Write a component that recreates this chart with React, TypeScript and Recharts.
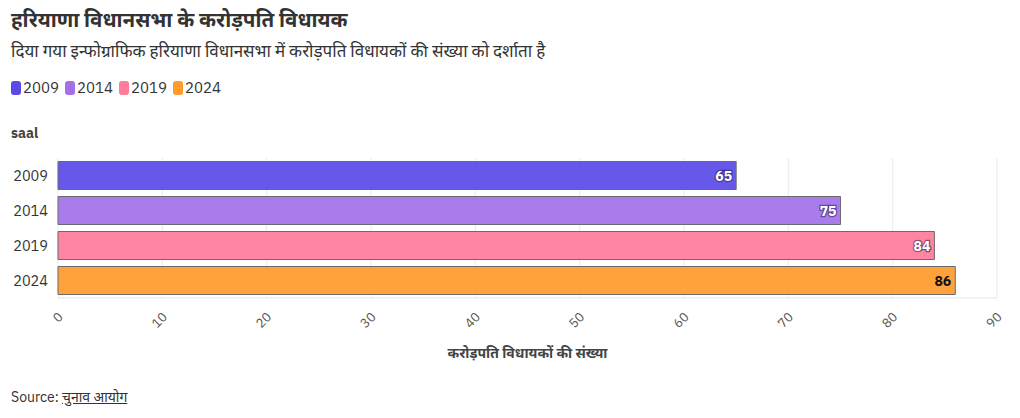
import React from "react";
import { BarChart, Bar, XAxis, YAxis, CartesianGrid, Cell, LabelList } from "recharts";

const years = ["2009", "2014", "2019", "2024"];
const crorepatiCounts = [65, 75, 84, 86];
const barColors = ["#5b4ae8", "#a370e8", "#ff7b9a", "#ff9a2b"];
const labelColors = ["#ffffff", "#ffffff", "#ffffff", "#111111"];
const xTicks = [0, 10, 20, 30, 40, 50, 60, 70, 80, 90];

const title = "हरियाणा विधानसभा के करोड़पति विधायक";
const subtitle = "दिया गया इन्फोग्राफिक हरियाणा विधानसभा में करोड़पति विधायकों की संख्या को दर्शाता है";
const yAxisTitle = "saal";
const xAxisTitle = "करोड़पति विधायकों की संख्या";
const sourceLabel = "Source: ";
const sourceName = "चुनाव आयोग";

const data = years.map((y, i) => ({ year: y, value: crorepatiCounts[i] }));

const FONT = "'IBM Plex Sans', 'Noto Sans', 'Noto Sans Devanagari', sans-serif";

const XTick = (props: any) => {
  const { x, y, payload } = props;
  return (
    <g transform={`translate(${x},${y + 6})`}>
      <text
        x={0}
        y={0}
        dy={8}
        textAnchor="end"
        transform="rotate(-45)"
        fill="#555"
        fontSize={13}
        fontFamily={FONT}
      >
        {payload.value}
      </text>
    </g>
  );
};

const YTick = (props: any) => {
  const { x, y, payload } = props;
  return (
    <text x={x - 2} y={y} dy={5} textAnchor="end" fill="#333" fontSize={14.5} fontFamily={FONT}>
      {payload.value}
    </text>
  );
};

const ValueLabel = (props: any) => {
  const { x, y, width, height, value, index } = props;
  const color = labelColors[index];
  const light = color === "#ffffff";
  return (
    <text
      x={x + width - 4}
      y={y + height / 2}
      dy={5}
      textAnchor="end"
      fontSize={14}
      fontWeight={700}
      fill={color}
      stroke={light ? "rgba(40,30,80,0.55)" : "none"}
      strokeWidth={light ? 2.5 : 0}
      paintOrder="stroke"
      fontFamily={FONT}
    >
      {value}
    </text>
  );
};

export default function App() {
  return (
    <div
      style={{
        position: "absolute",
        left: 0,
        top: 0,
        width: 1020,
        height: 418,
        background: "#fff",
        fontFamily: FONT,
        color: "#333",
        overflow: "hidden",
      }}
    >
      <div style={{ position: "absolute", left: 11, top: 5, fontSize: 20.5, fontWeight: 700, color: "#333", whiteSpace: "nowrap" }}>
        {title}
      </div>
      <div style={{ position: "absolute", left: 11, top: 39, fontSize: 17, color: "#333", whiteSpace: "nowrap" }}>
        {subtitle}
      </div>
      <div style={{ position: "absolute", left: 11, top: 78, display: "flex", alignItems: "center", fontSize: 15, color: "#333" }}>
        {years.map((y, i) => (
          <div key={y} style={{ display: "flex", alignItems: "center", marginRight: 6 }}>
            <span
              style={{
                display: "inline-block",
                width: 10,
                height: 14,
                borderRadius: 3,
                background: barColors[i],
                marginRight: 2,
              }}
            />
            <span>{y}</span>
          </div>
        ))}
      </div>
      <div style={{ position: "absolute", left: 11, top: 124, fontSize: 14, fontWeight: 700, color: "#444" }}>
        {yAxisTitle}
      </div>
      <div style={{ position: "absolute", left: 0, top: 0 }}>
        <BarChart
          width={1020}
          height={418}
          data={data}
          layout="vertical"
          margin={{ top: 158, right: 23, bottom: 80, left: 0 }}
          barCategoryGap="10%"
        >
          <CartesianGrid horizontal={false} stroke="#ebebeb" />
          <XAxis
            type="number"
            domain={[0, 90]}
            ticks={xTicks}
            height={40}
            tick={<XTick />}
            axisLine={{ stroke: "#e6e6e6" }}
            tickLine={false}
          />
          <YAxis
            type="category"
            dataKey="year"
            width={58}
            tick={<YTick />}
            axisLine={false}
            tickLine={false}
          />
          <Bar dataKey="value" isAnimationActive={false} stroke="#6b6b6b" strokeWidth={1}>
            {data.map((d, i) => (
              <Cell key={d.year} fill={barColors[i]} fillOpacity={0.92} />
            ))}
            <LabelList dataKey="value" content={<ValueLabel />} />
          </Bar>
        </BarChart>
      </div>
      <div style={{ position: "absolute", left: 0, width: 1055, top: 343, textAlign: "center", fontSize: 14, fontWeight: 700, color: "#444" }}>
        {xAxisTitle}
      </div>
      <div style={{ position: "absolute", left: 11, top: 387, fontSize: 14, color: "#333" }}>
        {sourceLabel}
        <span style={{ textDecoration: "underline" }}>{sourceName}</span>
      </div>
    </div>
  );
}
